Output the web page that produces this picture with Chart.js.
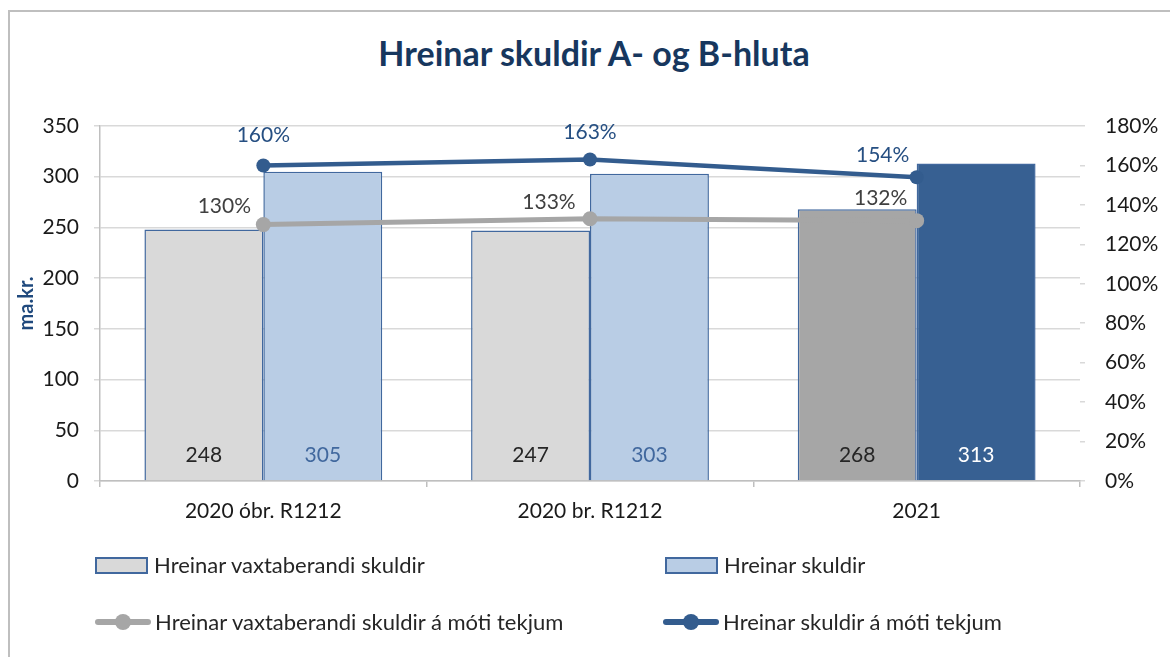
<!DOCTYPE html>
<html>
<head>
<meta charset="utf-8">
<script src="https://cdn.jsdelivr.net/npm/chart.js@4.4.1/dist/chart.umd.min.js"></script>
<style>
  html, body { margin: 0; padding: 0; background: #fff; }
  #wrap { position: relative; width: 1170px; height: 657px; overflow: hidden; }
  #frame { position: absolute; left: 8px; top: 10px; width: 1200px; height: 700px; border: 2px solid #bfbfbf; box-sizing: border-box; }
  #title { position: absolute; left: 0; top: 31px; width: 1188px; text-align: center; font-family: Lato, sans-serif; font-weight: bold; font-size: 34px; line-height: 44px; color: #17375e; }
  canvas { position: absolute; left: 0; top: 0; }
  #legend { position: absolute; left: 0; top: 0; width: 1170px; height: 657px; pointer-events: none; font-family: Lato, sans-serif; font-size: 22px; color: #262626; }
  .item { position: absolute; display: flex; align-items: center; white-space: nowrap; height: 26px; line-height: 26px; }
  .box { width: 49px; height: 13px; border: 2px solid #41689e; margin-right: 6px; }
  .ln { position: relative; width: 56px; height: 16px; margin-right: 4px; }
  .ln .bar { position: absolute; left: 0; top: 5px; width: 56px; height: 6px; border-radius: 3px; }
  .ln .dot { position: absolute; left: 20px; top: 0; width: 16px; height: 16px; border-radius: 50%; }
</style>
</head>
<body>
<div id="wrap">
  <div id="frame"></div>
  <div id="title">Hreinar skuldir A- og B-hluta</div>
  <canvas id="c" width="1170" height="657"></canvas>
  <div id="legend"></div>
</div>
<script>
const categories = ['2020 óbr. R1212', '2020 br. R1212', '2021'];
const vaxtaberandiSkuldir = [248, 247, 268];
const hreinarSkuldir = [305, 303, 313];
const vaxtaberandiHlutfall = [130, 133, 132];
const skuldirHlutfall = [160, 163, 154];
const leftTicks = [0, 50, 100, 150, 200, 250, 300, 350];
const rightTicks = [0, 20, 40, 60, 80, 100, 120, 140, 160, 180];
const seriesNames = [
  'Hreinar vaxtaberandi skuldir',
  'Hreinar skuldir',
  'Hreinar vaxtaberandi skuldir á móti tekjum',
  'Hreinar skuldir á móti tekjum'
];

const FONT = 'Lato, sans-serif';
const FS = 21;

const labelPlugin = {
  id: 'valueLabels',
  afterDatasetsDraw(chart) {
    const ctx = chart.ctx;
    const y0 = chart.scales.y.getPixelForValue(0);
    ctx.save();
    ctx.font = FS + 'px ' + FONT;
    ctx.textAlign = 'center';
    ctx.textBaseline = 'middle';
    const barColors = [
      ['#262626', '#262626', '#262626'],
      ['#41689e', '#41689e', '#ffffff']
    ];
    [0, 1].forEach(di => {
      const meta = chart.getDatasetMeta(di);
      meta.data.forEach((el, i) => {
        ctx.fillStyle = barColors[di][i];
        ctx.fillText(String(chart.data.datasets[di].data[i]), el.x, y0 - 26);
      });
    });
    const greyOff = [[-39, -18], [-41, -16], [-36, -22]];
    chart.getDatasetMeta(2).data.forEach((el, i) => {
      ctx.fillStyle = '#404040';
      ctx.fillText(chart.data.datasets[2].data[i] + '%', el.x + greyOff[i][0], el.y + greyOff[i][1]);
    });
    const blueOff = [[0, -30], [0, -27], [-34, -22]];
    chart.getDatasetMeta(3).data.forEach((el, i) => {
      ctx.fillStyle = '#264f82';
      ctx.fillText(chart.data.datasets[3].data[i] + '%', el.x + blueOff[i][0], el.y + blueOff[i][1]);
    });
    ctx.restore();
  }
};

const datasets = [
  {
    type: 'bar', label: seriesNames[0], data: vaxtaberandiSkuldir, yAxisID: 'y', order: 2,
    backgroundColor: ['#d9d9d9', '#d9d9d9', '#a6a6a6'], borderColor: '#41689e', borderWidth: 1.5,
    barPercentage: 1.0, categoryPercentage: 0.728
  },
  {
    type: 'bar', label: seriesNames[1], data: hreinarSkuldir, yAxisID: 'y', order: 2,
    backgroundColor: ['#b9cde5', '#b9cde5', '#376092'], borderColor: '#41689e', borderWidth: 1.5,
    barPercentage: 1.0, categoryPercentage: 0.728
  },
  {
    type: 'line', label: seriesNames[2], data: vaxtaberandiHlutfall, yAxisID: 'y1', order: 1,
    borderColor: '#a6a6a6', backgroundColor: '#a6a6a6', borderWidth: 5,
    pointRadius: 7.5, pointBackgroundColor: '#a6a6a6', pointBorderWidth: 0, tension: 0
  },
  {
    type: 'line', label: seriesNames[3], data: skuldirHlutfall, yAxisID: 'y1', order: 0,
    borderColor: '#335c8e', backgroundColor: '#335c8e', borderWidth: 4.5,
    pointRadius: 7, pointBackgroundColor: '#335c8e', pointBorderWidth: 0, tension: 0
  }
];

new Chart(document.getElementById('c'), {
  data: { labels: categories, datasets: datasets },
  options: {
    responsive: false,
    animation: false,
    layout: { padding: { left: 0, right: 0, top: 126, bottom: 126 } },
    plugins: { legend: { display: false }, title: { display: false }, tooltip: { enabled: false } },
    scales: {
      x: {
        offset: true,
        grid: { display: true, offset: true, drawOnChartArea: false, drawTicks: true, tickLength: 6, color: '#bfbfbf', lineWidth: 1.5 },
        border: { display: true, color: '#bfbfbf', width: 1.5 },
        ticks: { font: { family: FONT, size: FS }, color: '#1a1a1a', padding: 12, maxRotation: 0 },
        afterFit(s) { s.height = 50; }
      },
      y: {
        position: 'left', min: 0, max: 350,
        afterBuildTicks(s) { s.ticks = leftTicks.map(v => ({ value: v })); },
        grid: { color: '#d9d9d9', lineWidth: 1.5, tickLength: 6, drawTicks: true },
        border: { display: true, color: '#bfbfbf', width: 1.5 },
        ticks: { font: { family: FONT, size: FS }, color: '#1a1a1a', padding: 15 },
        title: { display: true, text: 'ma.kr.', color: '#1f497d', font: { family: FONT, size: 20, weight: 'bold' }, padding: { top: 15, bottom: 0 } },
        afterFit(s) { s.width = 100; }
      },
      y1: {
        position: 'right', min: 0, max: 180,
        afterBuildTicks(s) { s.ticks = rightTicks.map(v => ({ value: v })); },
        grid: { drawOnChartArea: false, color: '#d9d9d9', lineWidth: 1.5, tickLength: 5 },
        border: { display: false },
        ticks: { font: { family: FONT, size: FS }, color: '#1a1a1a', padding: 20, callback: v => v + '%' },
        afterFit(s) { s.width = 90; }
      }
    }
  },
  plugins: [labelPlugin]
});

const legend = document.getElementById('legend');
const legendPos = [[95, 565], [665, 565], [95, 622], [663, 622]];
datasets.forEach((ds, i) => {
  const it = document.createElement('div');
  it.className = 'item';
  it.style.left = legendPos[i][0] + 'px';
  it.style.top = (legendPos[i][1] - 13) + 'px';
  const sw = document.createElement('div');
  if (ds.type === 'bar') {
    sw.className = 'box';
    sw.style.background = ds.backgroundColor[0];
    sw.style.borderColor = ds.borderColor;
  } else {
    sw.className = 'ln';
    sw.innerHTML = '<div class="bar" style="background:' + ds.borderColor + '"></div><div class="dot" style="background:' + ds.borderColor + '"></div>';
  }
  const tx = document.createElement('span');
  tx.textContent = ds.label;
  it.appendChild(sw);
  it.appendChild(tx);
  legend.appendChild(it);
});
</script>
</body>
</html>
